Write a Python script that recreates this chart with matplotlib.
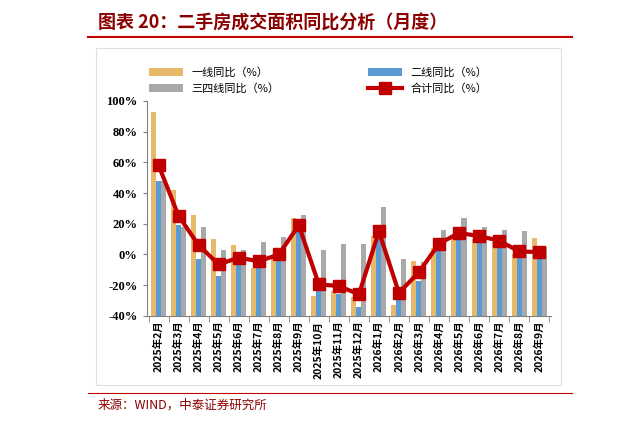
import matplotlib
matplotlib.use("Agg")
import matplotlib.pyplot as plt
import numpy as np
from matplotlib.patches import Rectangle
from matplotlib.lines import Line2D

plt.rcParams['font.family'] = ['Noto Sans CJK SC', 'DejaVu Sans']

months = ["2025年2月","2025年3月","2025年4月","2025年5月","2025年6月","2025年7月","2025年8月","2025年9月",
          "2025年10月","2025年11月","2025年12月","2026年1月","2026年2月","2026年3月","2026年4月","2026年5月",
          "2026年6月","2026年7月","2026年8月","2026年9月"]
tier1 = [93, 42, 26, 10, 6, -9, -3, 24, -27, -24, -28, 12, -33, -4, 4, 11, 10, 8, 0, 11]
tier2 = [48, 19, -3, -14, -6, -8, -3, 15, -23, -26, -34, 11, -29, -17, 5, 11, 10, 6, -1, -3]
tier34 = [48, 18, 18, 3, 3, 8, 11.5, 26, 3, 7, 7, 31, -3, -5, 16, 24, 18, 16, 15, 5]
total = [58, 25, 6, -6.5, -2, -4.5, 0, 19, -19.5, -20.5, -26, 15, -25, -11.5, 7, 14, 12, 9, 2, 1.5]

fig = plt.figure(figsize=(6.32, 4.24), dpi=100)
fig.text(0.155, 0.945, "图表 20：二手房成交面积同比分析（月度）", fontsize=13, fontweight='bold',
         style='italic', color='#8B0000', ha='left', va='center')
fig.add_artist(Line2D([0.14, 0.905], [0.912, 0.912], color='#C00000', lw=1.5, transform=fig.transFigure))
fig.add_artist(Line2D([0.14, 0.905], [0.072, 0.072], color='#C00000', lw=0.8, transform=fig.transFigure))
fig.text(0.155, 0.045, "来源：WIND，中泰证券研究所", fontsize=9, color='#8B0000', ha='left', va='center')
fig.add_artist(Rectangle((0.152, 0.092), 0.735, 0.795, transform=fig.transFigure, fill=False,
                         ec='#E0E0E0', lw=0.8))

ax = fig.add_axes([0.232, 0.255, 0.64, 0.507])
x = np.arange(len(months))
w = 0.25
base = -40
b1 = ax.bar(x - w, np.array(tier1) - base, w, bottom=base, color='#E6B96B', label='一线同比（%）')
b2 = ax.bar(x, np.array(tier2) - base, w, bottom=base, color='#5B9BD5', label='二线同比（%）')
b3 = ax.bar(x + w, np.array(tier34) - base, w, bottom=base, color='#A9A9A9', label='三四线同比（%）')
l, = ax.plot(x, total, color='#C00000', lw=3, marker='s', ms=9, label='合计同比（%）')
ax.set_ylim(-40, 100)
ax.set_xlim(-0.6, len(months) - 0.4)
ax.set_yticks(range(-40, 101, 20))
ax.set_yticklabels([f"{v}%" for v in range(-40, 101, 20)], fontfamily='Liberation Serif',
                   fontweight='bold', fontsize=9)
ax.set_xticks(x)
ax.set_xticklabels(months, rotation=90, fontsize=7.5, fontweight='bold')
ax.set_xticks(np.arange(len(months) + 1) - 0.5, minor=True)
ax.tick_params(axis='x', which='major', length=0)
ax.tick_params(axis='x', which='minor', length=4, color='#808080')
ax.tick_params(axis='y', length=3, color='#808080')
for s in ['top', 'right']:
    ax.spines[s].set_visible(False)
for s in ['left', 'bottom']:
    ax.spines[s].set_color('#808080')
ax.legend([b1, b3, b2, l], ['一线同比（%）', '三四线同比（%）', '二线同比（%）', '合计同比（%）'],
          ncol=2, loc='lower left', bbox_to_anchor=(-0.01, 1.0), frameon=False, fontsize=8,
          columnspacing=8, handlelength=3, borderaxespad=0.2)
fig.savefig("out.png", dpi=100)
